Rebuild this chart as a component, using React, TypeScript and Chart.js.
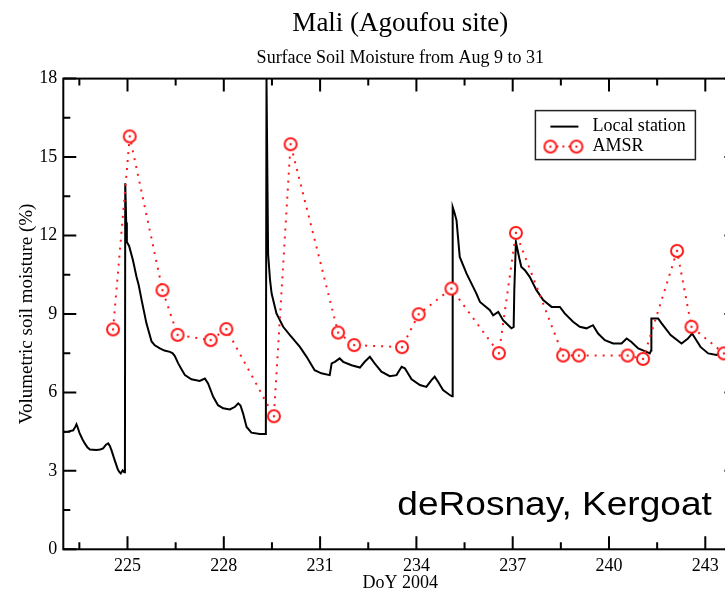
import React, { useEffect, useRef } from "react";
import { Chart, registerables } from "chart.js";

Chart.register(...registerables);

// ---- data ----
const stationDays = [
  223.0, 223.15, 223.31, 223.38, 223.41, 223.45, 223.51, 223.6, 223.67, 223.75, 223.83, 224.03, 224.15, 224.24,
  224.33, 224.4, 224.45, 224.5, 224.6, 224.7, 224.75, 224.79, 224.85, 224.9, 224.92, 224.93, 224.96, 224.98,
  225.05, 225.17, 225.28, 225.35, 225.44, 225.59, 225.75, 225.85, 226.01, 226.15, 226.32, 226.4, 226.47, 226.58,
  226.7, 226.79, 226.99, 227.25, 227.41, 227.51, 227.67, 227.82, 227.98, 228.19, 228.35, 228.45, 228.52, 228.6,
  228.71, 228.86, 229.12, 229.31, 229.33, 229.36, 229.38, 229.44, 229.49, 229.64, 229.85, 230.06, 230.16, 230.37,
  230.58, 230.83, 231.04, 231.3, 231.36, 231.46, 231.61, 231.72, 231.98, 232.24, 232.39, 232.55, 232.7, 232.91,
  233.17, 233.38, 233.54, 233.64, 233.85, 234.11, 234.31, 234.47, 234.57, 234.68, 234.83, 235.04, 235.11, 235.13,
  235.18, 235.25, 235.35, 235.56, 235.87, 235.98, 236.29, 236.39, 236.55, 236.7, 236.96, 237.03, 237.05, 237.1,
  237.16, 237.22, 237.27, 237.38, 237.53, 237.74, 237.95, 238.21, 238.47, 238.62, 238.88, 239.09, 239.3, 239.5,
  239.66, 239.87, 240.13, 240.39, 240.55, 240.7, 240.91, 241.17, 241.27, 241.31, 241.32, 241.53, 241.64, 241.92,
  242.26, 242.45, 242.59, 242.85, 243.09, 243.35, 243.58, 243.8, 244.0,
];
const stationValues = [
  4.49, 4.5, 4.55, 4.7, 4.78, 4.65, 4.43, 4.2, 4.05, 3.9, 3.82, 3.8, 3.82, 3.86,
  4.0, 4.05, 3.95, 3.79, 3.41, 3.05, 2.95, 2.9, 3.02, 2.95, 3.0, 14.0, 12.5, 11.75,
  11.6, 11.05, 10.42, 10.1, 9.53, 8.64, 7.95, 7.8, 7.68, 7.6, 7.55, 7.5, 7.4, 7.11,
  6.85, 6.66, 6.5, 6.44, 6.53, 6.34, 5.83, 5.51, 5.39, 5.35, 5.45, 5.58, 5.5, 5.2,
  4.68, 4.46, 4.41, 4.41, 18.0, 14.0, 11.3, 10.3, 9.78, 9.02, 8.51, 8.19, 8.05, 7.74,
  7.36, 6.85, 6.73, 6.66, 7.11, 7.17, 7.3, 7.17, 7.04, 6.95, 7.17, 7.36, 7.11, 6.79,
  6.62, 6.66, 6.98, 6.92, 6.5, 6.28, 6.21, 6.47, 6.6, 6.4, 6.09, 5.9, 5.85, 13.09,
  12.9, 12.58, 11.18, 10.55, 9.78, 9.46, 9.14, 8.95, 9.08, 8.76, 8.45, 8.5, 9.91, 11.75,
  11.4, 11.05, 10.8, 10.67, 10.42, 9.91, 9.53, 9.27, 9.27, 9.02, 8.7, 8.51, 8.45, 8.57,
  8.25, 8.0, 7.87, 7.87, 8.06, 7.93, 7.68, 7.55, 7.49, 7.6, 8.83, 8.83, 8.64, 8.19,
  7.87, 8.05, 8.25, 7.74, 7.49, 7.43, 7.62, 7.55, 7.5,
];

const amsrDays = [
  224.55, 225.07, 226.09, 226.56, 227.59, 228.08, 229.56, 230.08, 231.56, 232.06, 233.55,
  234.07, 235.09, 236.57, 237.1, 238.57, 239.06, 240.58, 241.06, 242.12, 242.57, 243.58,
];
const amsrValues = [
  8.41, 15.79, 9.91, 8.2, 8.0, 8.42, 5.09, 15.49, 8.29, 7.81, 7.73,
  8.99, 9.97, 7.5, 12.1, 7.41, 7.41, 7.41, 7.28, 11.41, 8.51, 7.49,
];

const seriesLabels = ["Local station", "AMSR"];
const xMajorTicks = [225, 228, 231, 234, 237, 240, 243];
const xMinorTicks = [223.5, 226.5, 229.5, 232.5, 235.5, 238.5, 241.5];
const yMajorTicks = [0, 3, 6, 9, 12, 15, 18];
const yMinorTicks = [1.5, 4.5, 7.5, 10.5, 13.5, 16.5];
const titleText = "Mali (Agoufou site)";
const subtitleText = "Surface Soil Moisture from Aug 9 to 31";
const xTitleText = "DoY 2004";
const yTitleText = "Volumetric soil moisture (%)";
const creditText = "deRosnay, Kergoat";

const SERIF = "'Liberation Serif', 'Times New Roman', serif";
const SANS = "'Liberation Sans', Arial, sans-serif";
const RED = "#ff1a1a";

function makeMarker(): HTMLCanvasElement {
  const c = document.createElement("canvas");
  c.width = 16;
  c.height = 16;
  const g = c.getContext("2d")!;
  g.beginPath();
  g.arc(8, 8, 6, 0, Math.PI * 2);
  g.fillStyle = "#ffffff";
  g.fill();
  g.lineWidth = 2;
  g.strokeStyle = RED;
  g.stroke();
  g.beginPath();
  g.arc(8, 8, 1.2, 0, Math.PI * 2);
  g.fillStyle = RED;
  g.fill();
  return c;
}

export default function App() {
  const ref = useRef<HTMLCanvasElement | null>(null);

  useEffect(() => {
    if (!ref.current) return;
    const marker = makeMarker();

    const framePlugin = {
      id: "frameTicks",
      afterDatasetsDraw(chart: any) {
        const { ctx, chartArea: a, scales } = chart;
        const xs = scales.x;
        const ys = scales.y;
        ctx.save();
        ctx.strokeStyle = "#000";
        ctx.lineWidth = 2;
        ctx.strokeRect(a.left, a.top, a.right - a.left, a.bottom - a.top);
        ctx.beginPath();
        xs.ticks.forEach((t: any) => {
          const px = xs.getPixelForValue(t.value);
          const len = xMajorTicks.includes(t.value) ? 13 : 7;
          ctx.moveTo(px, a.bottom);
          ctx.lineTo(px, a.bottom - len);
          ctx.moveTo(px, a.top);
          ctx.lineTo(px, a.top + len);
        });
        ys.ticks.forEach((t: any) => {
          const py = ys.getPixelForValue(t.value);
          const len = yMajorTicks.includes(t.value) ? 13 : 7;
          ctx.moveTo(a.left, py);
          ctx.lineTo(a.left + len, py);
          ctx.moveTo(a.right, py);
          ctx.lineTo(a.right - len, py);
        });
        ctx.stroke();
        ctx.restore();
      },
      afterDraw(chart: any) {
        const { ctx, chartArea: a } = chart;
        const ds = chart.data.datasets;
        ctx.save();
        // legend box
        const lx = a.right - 202;
        const ly = a.top + 32;
        ctx.fillStyle = "#fff";
        ctx.fillRect(lx, ly, 160, 49);
        ctx.strokeStyle = "#222";
        ctx.lineWidth = 1.5;
        ctx.strokeRect(lx, ly, 160, 49);
        // row 1
        const r1 = ly + 16;
        ctx.strokeStyle = ds[0].borderColor;
        ctx.lineWidth = 2;
        ctx.beginPath();
        ctx.moveTo(lx + 15, r1);
        ctx.lineTo(lx + 43, r1);
        ctx.stroke();
        // row 2
        const r2 = ly + 36;
        ctx.strokeStyle = ds[1].borderColor;
        ctx.setLineDash([2, 4]);
        ctx.beginPath();
        ctx.moveTo(lx + 15, r2);
        ctx.lineTo(lx + 41, r2);
        ctx.stroke();
        ctx.setLineDash([]);
        ctx.drawImage(marker, lx + 15 - 8, r2 - 8);
        ctx.drawImage(marker, lx + 41 - 8, r2 - 8);
        ctx.fillStyle = "#000";
        ctx.font = `18px ${SERIF}`;
        ctx.textBaseline = "middle";
        ctx.textAlign = "left";
        ctx.fillText(ds[0].label, lx + 57, r1);
        ctx.fillText(ds[1].label, lx + 57, r2);
        // credit text
        ctx.font = `34px ${SANS}`;
        ctx.textBaseline = "alphabetic";
        ctx.translate(a.left + 334, a.bottom - 34);
        ctx.scale(1.09, 1);
        ctx.fillText(creditText, 0, 0);
        ctx.restore();
      },
    };

    const chart = new Chart(ref.current, {
      type: "line",
      data: {
        datasets: [
          {
            label: seriesLabels[0],
            data: stationDays.map((d, i) => ({ x: d, y: stationValues[i] })),
            borderColor: "#000000",
            borderWidth: 2,
            pointRadius: 0,
            tension: 0,
            order: 2,
          },
          {
            label: seriesLabels[1],
            data: amsrDays.map((d, i) => ({ x: d, y: amsrValues[i] })),
            borderColor: RED,
            borderWidth: 2,
            borderDash: [2, 6],
            pointStyle: marker as any,
            pointRadius: 7,
            pointHoverRadius: 7,
            tension: 0,
            order: 1,
          },
        ],
      },
      options: {
        animation: false,
        responsive: true,
        maintainAspectRatio: false,
        events: [],
        layout: { padding: { left: 0, right: 22.6, top: 0, bottom: 0 } },
        plugins: {
          legend: { display: false },
          tooltip: { enabled: false },
          title: {
            display: true,
            text: titleText,
            fullSize: false,
            color: "#000",
            font: { family: SERIF, size: 27, weight: "normal", lineHeight: 1.2 },
            padding: { top: 7.5, bottom: 0 },
          },
          subtitle: {
            display: true,
            text: subtitleText,
            fullSize: false,
            color: "#000",
            font: { family: SERIF, size: 18, weight: "normal", lineHeight: 1.2 },
            padding: { top: 7.4, bottom: 9.7 },
          },
        },
        scales: {
          x: {
            type: "linear",
            min: 223,
            max: 244,
            grid: { display: false, drawTicks: false },
            border: { display: false },
            afterBuildTicks: (s: any) => {
              s.ticks = [...xMinorTicks, ...xMajorTicks].sort((a, b) => a - b).map((v) => ({ value: v }));
            },
            afterFit: (s: any) => {
              s.height = 41.7;
            },
            ticks: {
              autoSkip: false,
              maxRotation: 0,
              padding: 6,
              color: "#000",
              font: { family: SERIF, size: 18 },
              callback: (v: any) => (xMajorTicks.includes(Number(v)) ? String(v) : ""),
            },
            title: {
              display: true,
              text: xTitleText,
              color: "#000",
              font: { family: SERIF, size: 18, lineHeight: 0.85 },
              padding: { top: 0, bottom: 0 },
            },
          },
          y: {
            type: "linear",
            min: 0,
            max: 18,
            grid: { display: false, drawTicks: false },
            border: { display: false },
            afterBuildTicks: (s: any) => {
              s.ticks = [...yMinorTicks, ...yMajorTicks].sort((a, b) => a - b).map((v) => ({ value: v }));
            },
            afterFit: (s: any) => {
              s.width = 63.3;
            },
            ticks: {
              autoSkip: false,
              padding: 6,
              color: "#000",
              font: { family: SERIF, size: 18 },
              callback: (v: any) => (yMajorTicks.includes(Number(v)) ? String(v) : ""),
            },
            title: {
              display: true,
              text: yTitleText,
              color: "#000",
              font: { family: SERIF, size: 19, lineHeight: 1.2 },
              padding: { top: 16, bottom: 0 },
            },
          },
        },
      },
      plugins: [framePlugin],
    });

    return () => chart.destroy();
  }, []);

  return (
    <div
      style={{
        position: "fixed",
        left: 0,
        top: 0,
        width: 725,
        height: 591,
        overflow: "hidden",
        background: "#fff",
      }}
    >
      <div style={{ position: "relative", width: 760, height: 591 }}>
        <canvas ref={ref} />
      </div>
    </div>
  );
}
